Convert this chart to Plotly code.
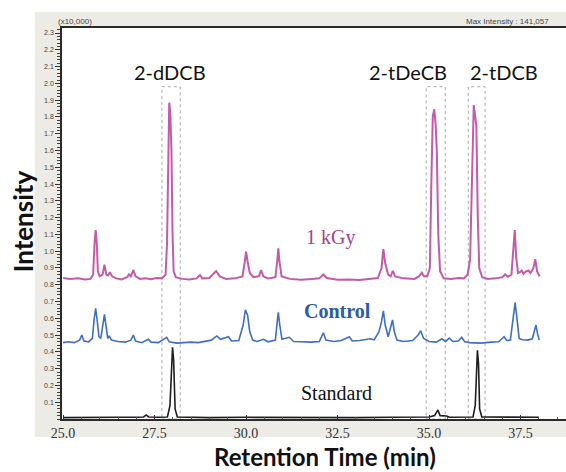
import plotly.graph_objects as go

# ---------------- data ----------------
kgy_t = [25.00, 25.20, 25.40, 25.60, 25.75, 25.82, 25.86, 25.89, 25.92, 25.95, 26.00, 26.08, 26.13, 26.18,
         26.23, 26.28, 26.34, 26.45, 26.60, 26.75, 26.80, 26.85, 26.92, 26.98, 27.10, 27.25, 27.40, 27.55,
         27.70, 27.80, 27.84, 27.87, 27.90, 27.93, 27.96, 27.99, 28.02, 28.08, 28.25, 28.45, 28.65, 28.74,
         28.80, 29.00, 29.18, 29.28, 29.45, 29.70, 29.90, 29.96, 30.00, 30.04, 30.10, 30.20, 30.35, 30.41,
         30.47, 30.60, 30.80, 30.85, 30.88, 30.91, 30.97, 31.20, 31.50, 31.80, 32.00, 32.11, 32.20, 32.50,
         32.80, 33.10, 33.40, 33.60, 33.70, 33.75, 33.80, 33.88, 33.95, 34.01, 34.07, 34.30, 34.60, 34.72,
         34.80, 34.86, 34.95, 35.02, 35.06, 35.10, 35.14, 35.18, 35.21, 35.25, 35.30, 35.40, 35.60, 35.80,
         35.95, 36.05, 36.12, 36.18, 36.22, 36.26, 36.29, 36.33, 36.37, 36.45, 36.60, 36.80, 37.00, 37.08,
         37.15, 37.25, 37.30, 37.34, 37.38, 37.43, 37.48, 37.53, 37.58, 37.64, 37.71, 37.77, 37.85, 37.90,
         37.95, 38.00, 38.02]
kgy_i = [0.840, 0.835, 0.838, 0.832, 0.835, 0.860, 1.050, 1.126, 1.050, 0.880, 0.850, 0.860, 0.920, 0.860,
         0.855, 0.874, 0.850, 0.838, 0.832, 0.845, 0.862, 0.850, 0.888, 0.850, 0.835, 0.838, 0.833, 0.840,
         0.838, 0.860, 1.050, 1.650, 1.885, 1.820, 1.600, 1.100, 0.880, 0.845, 0.835, 0.832, 0.838, 0.858,
         0.838, 0.840, 0.882, 0.850, 0.835, 0.838, 0.850, 0.930, 0.997, 0.940, 0.870, 0.845, 0.850, 0.888,
         0.850, 0.838, 0.845, 0.940, 1.017, 0.940, 0.850, 0.835, 0.830, 0.835, 0.838, 0.862, 0.840, 0.830,
         0.832, 0.828, 0.835, 0.840, 0.900, 1.013, 0.930, 0.860, 0.850, 0.882, 0.850, 0.838, 0.835, 0.850,
         0.872, 0.850, 0.850, 0.900, 1.400, 1.800, 1.846, 1.750, 1.600, 1.100, 0.880, 0.838, 0.835, 0.840,
         0.838, 0.860, 0.950, 1.600, 1.871, 1.800, 1.750, 1.200, 0.900, 0.845, 0.835, 0.838, 0.845, 0.862,
         0.848, 0.860, 1.000, 1.126, 0.960, 0.870, 0.875, 0.884, 0.865, 0.878, 0.885, 0.870, 0.900, 0.952,
         0.880, 0.858, 0.850]

ctl_t = [25.00, 25.15, 25.30, 25.45, 25.51, 25.57, 25.70, 25.80, 25.85, 25.89, 25.93, 25.98, 26.03, 26.08,
         26.13, 26.17, 26.22, 26.26, 26.32, 26.50, 26.70, 26.85, 26.92, 26.98, 27.15, 27.33, 27.40, 27.60,
         27.83, 27.90, 28.10, 28.30, 28.50, 28.70, 28.90, 29.05, 29.20, 29.30, 29.52, 29.60, 29.80, 29.92,
         29.98, 30.04, 30.10, 30.18, 30.30, 30.47, 30.60, 30.80, 30.85, 30.88, 30.92, 30.98, 31.18, 31.30,
         31.50, 31.80, 32.00, 32.11, 32.18, 32.40, 32.60, 32.82, 32.90, 33.10, 33.39, 33.50, 33.63, 33.70,
         33.75, 33.80, 33.88, 33.96, 34.00, 34.05, 34.12, 34.30, 34.55, 34.70, 34.77, 34.85, 35.00, 35.20,
         35.35, 35.45, 35.55, 35.65, 35.80, 35.89, 35.97, 36.10, 36.40, 36.70, 36.90, 37.05, 37.12, 37.22,
         37.30, 37.35, 37.40, 37.46, 37.55, 37.70, 37.82, 37.88, 37.92, 37.96, 38.01]
ctl_i = [0.455, 0.460, 0.455, 0.470, 0.500, 0.465, 0.460, 0.480, 0.600, 0.660, 0.590, 0.490, 0.480, 0.540,
         0.624, 0.560, 0.480, 0.495, 0.470, 0.462, 0.458, 0.470, 0.500, 0.465, 0.455, 0.475, 0.458, 0.455,
         0.487, 0.460, 0.452, 0.455, 0.458, 0.455, 0.462, 0.470, 0.495, 0.475, 0.490, 0.465, 0.468, 0.560,
         0.650, 0.620, 0.520, 0.470, 0.462, 0.475, 0.460, 0.470, 0.580, 0.636, 0.560, 0.475, 0.487, 0.462,
         0.460, 0.458, 0.462, 0.514, 0.470, 0.462, 0.468, 0.490, 0.465, 0.468, 0.478, 0.472, 0.520, 0.580,
         0.645, 0.560, 0.490, 0.560, 0.590, 0.520, 0.470, 0.462, 0.468, 0.500, 0.526, 0.480, 0.462, 0.458,
         0.478, 0.462, 0.482, 0.462, 0.465, 0.487, 0.462, 0.455, 0.452, 0.458, 0.460, 0.490, 0.468, 0.470,
         0.600, 0.693, 0.600, 0.480, 0.472, 0.470, 0.478, 0.530, 0.560, 0.510, 0.470]

std_t = [25.00, 25.50, 26.00, 26.50, 27.00, 27.20, 27.27, 27.34, 27.60, 27.85, 27.92, 27.96, 27.99, 28.02,
         28.06, 28.12, 28.50, 29.00, 30.00, 31.00, 32.00, 33.00, 34.00, 35.00, 35.15, 35.24, 35.30, 35.41,
         35.48, 35.55, 36.00, 36.20, 36.26, 36.29, 36.32, 36.35, 36.38, 36.44, 37.00, 37.50, 38.00]
std_i = [0.008, 0.010, 0.008, 0.010, 0.010, 0.012, 0.024, 0.012, 0.010, 0.012, 0.080, 0.330, 0.427, 0.350,
         0.060, 0.012, 0.010, 0.008, 0.010, 0.008, 0.010, 0.008, 0.010, 0.012, 0.020, 0.054, 0.020, 0.020,
         0.018, 0.010, 0.010, 0.012, 0.080, 0.330, 0.410, 0.330, 0.060, 0.012, 0.010, 0.008, 0.010]

peak_names = ["2-dDCB", "2-tDeCB", "2-tDCB"]
peak_windows = [(27.70, 28.20), (34.92, 35.44), (36.07, 36.53)]
window_top = 1.98

x_ticks = [25.0, 27.5, 30.0, 32.5, 35.0, 37.5]
y_ticks = [round(0.1 * k, 1) for k in range(1, 24)]

# ---------------- figure ----------------
fig = go.Figure()
fig.add_trace(go.Scatter(x=kgy_t, y=kgy_i, mode="lines", line=dict(color="#c45aa9", width=2), name="1 kGy"))
fig.add_trace(go.Scatter(x=ctl_t, y=ctl_i, mode="lines", line=dict(color="#3f6fc2", width=1.6), name="Control"))
fig.add_trace(go.Scatter(x=std_t, y=std_i, mode="lines", line=dict(color="#1e1e1e", width=1.6), name="Standard"))

shapes = [
    # grey instrument-window background
    dict(type="rect", xref="paper", yref="paper", x0=-0.054, x1=1.01, y0=-0.046, y1=1.041,
         fillcolor="#ecebe6", line=dict(width=0), layer="below"),
    # white plot area
    dict(type="rect", xref="paper", yref="paper", x0=0, x1=1, y0=0, y1=1,
         fillcolor="white", line=dict(width=0), layer="below"),
]
for (a, b) in peak_windows:
    shapes.append(dict(type="rect", xref="x", yref="y", x0=a, x1=b, y0=0, y1=window_top,
                       line=dict(color="#a8a8a8", width=1, dash="dot"), fillcolor="rgba(0,0,0,0)",
                       layer="below"))

label_font = dict(family="Lato, Liberation Sans, sans-serif", size=20, color="#111111")
serif = "Liberation Serif, serif"
annotations = [
    dict(x=27.92, y=2.07, xref="x", yref="y", text=peak_names[0], showarrow=False, font=label_font),
    dict(x=34.43, y=2.07, xref="x", yref="y", text=peak_names[1], showarrow=False, font=label_font),
    dict(x=37.05, y=2.07, xref="x", yref="y", text=peak_names[2], showarrow=False, font=label_font),
    dict(x=32.30, y=1.08, xref="x", yref="y", text="1 kGy", showarrow=False,
         font=dict(family=serif, size=20, color="#a8408f")),
    dict(x=32.51, y=0.645, xref="x", yref="y", text="<b>Control</b>", showarrow=False,
         font=dict(family=serif, size=20, color="#2d5aa8")),
    dict(x=32.46, y=0.153, xref="x", yref="y", text="Standard", showarrow=False,
         font=dict(family=serif, size=20, color="#111111")),
    dict(x=-0.012, y=1.0, xref="paper", yref="paper", xanchor="left", yanchor="bottom",
         text="(x10,000)", showarrow=False,
         font=dict(family="Liberation Sans, sans-serif", size=8, color="#444444")),
    dict(x=0.797, y=1.0, xref="paper", yref="paper", xanchor="left", yanchor="bottom",
         text="Max Intensity : 141,057", showarrow=False,
         font=dict(family="Liberation Sans, sans-serif", size=8, color="#444444")),
    # axis titles
    dict(x=-0.077, y=0.506, xref="paper", yref="paper", xanchor="center", yanchor="middle",
         text="<b>Intensity</b>", textangle=-90, showarrow=False,
         font=dict(family="Lato, Liberation Sans, sans-serif", size=26, color="#111111")),
    dict(x=0.522, y=-0.0965, xref="paper", yref="paper", xanchor="center", yanchor="middle",
         text="<b>Retention Time (min)</b>", showarrow=False,
         font=dict(family="Lato, Liberation Sans, sans-serif", size=24, color="#111111")),
]

fig.update_layout(
    width=566, height=472, autosize=False,
    margin=dict(l=62, r=0, t=28, b=53),
    paper_bgcolor="white", plot_bgcolor="white",
    showlegend=False,
    shapes=shapes, annotations=annotations,
    xaxis=dict(range=[24.97, 38.74], tickvals=x_ticks, ticktext=[f"{v:.1f}" for v in x_ticks],
               automargin=False,
               showgrid=False, zeroline=False, showline=True, linecolor="#2a2a2a", linewidth=1.5,
               mirror=True, ticks="inside", ticklen=4, tickcolor="#333", tickwidth=1,
               minor=dict(dtick=0.5, tick0=25, ticks="inside", ticklen=2, tickcolor="#555"),
               tickfont=dict(family=serif, size=14, color="#333333")),
    yaxis=dict(range=[0, 2.33], tickvals=y_ticks, ticktext=[f"{v:.1f}" for v in y_ticks],
               automargin=False,
               showgrid=False, zeroline=False, showline=True, linecolor="#2a2a2a", linewidth=1.5,
               ticks="outside", ticklen=5, tickcolor="#333", tickwidth=1,
               minor=dict(dtick=0.02, tick0=0, ticks="outside", ticklen=3, tickcolor="#444"),
               tickfont=dict(family="Liberation Sans, sans-serif", size=7, color="#444444")),
)

fig.write_html("out.html", config={"displayModeBar": False},
               post_script="document.body.style.margin='0';document.body.style.overflow='hidden';")
